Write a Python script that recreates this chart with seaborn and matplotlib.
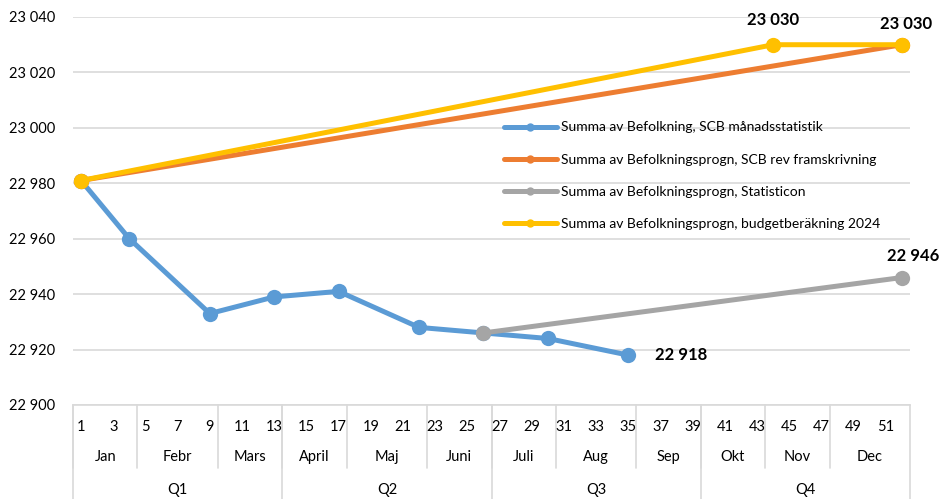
import numpy as np
import pandas as pd
import matplotlib
matplotlib.use("Agg")
import matplotlib.pyplot as plt
import matplotlib.transforms as mtransforms
from matplotlib.lines import Line2D
import seaborn as sns

# weekly values
blue_weeks = [1, 4, 9, 13, 17, 22, 26, 30, 35]
blue_vals = [22981, 22960, 22933, 22939, 22941, 22928, 22926, 22924, 22918]
orange_weeks = [1, 52]
orange_vals = [22981, 23030]
gray_weeks = [26, 52]
gray_vals = [22926, 22946]
yellow_weeks = [1, 44, 52]
yellow_vals = [22981, 23030, 23030]

labels = ["Summa av Befolkning, SCB månadsstatistik",
          "Summa av Befolkningsprogn, SCB rev framskrivning",
          "Summa av Befolkningsprogn, Statisticon",
          "Summa av Befolkningsprogn, budgetberäkning 2024"]
colors = ["#5B9BD5", "#ED7D31", "#A5A5A5", "#FFC000"]

months = ["Jan", "Febr", "Mars", "April", "Maj", "Juni",
          "Juli", "Aug", "Sep", "Okt", "Nov", "Dec"]
month_first_week = [1, 5, 10, 14, 18, 23, 27, 31, 36, 40, 44, 48]
quarters = ["Q1", "Q2", "Q3", "Q4"]
quarter_first_week = [1, 14, 27, 40]
n_weeks = 52

sns.set_style("white")
plt.rcParams["font.family"] = ["Lato", "DejaVu Sans"]
plt.rcParams["text.color"] = "#000000"

fig = plt.figure(figsize=(9.41, 4.99), dpi=100)
ax = fig.add_axes([73 / 941, 94 / 499, 837 / 941, 388 / 499])

series = [(blue_weeks, blue_vals), (orange_weeks, orange_vals),
          (gray_weeks, gray_vals), (yellow_weeks, yellow_vals)]
for (w, v), c, lab in zip(series, colors, labels):
    df = pd.DataFrame({"week": w, "value": v})
    sns.lineplot(data=df, x="week", y="value", ax=ax, color=c, lw=3.6,
                 marker="o", markersize=11, markeredgewidth=0, label=lab,
                 zorder=3)

ax.set_xlim(0.5, n_weeks + 0.5)
ax.set_ylim(22900, 23040)
yt = np.arange(22900, 23041, 20)
ax.set_yticks(yt)
ax.set_yticklabels([f"{t:,}".replace(",", " ") for t in yt], fontsize=10.5,
                   color="#000000")
ax.tick_params(axis="y", length=0, pad=13)
ax.yaxis.grid(True, color="#D9D9D9", lw=1.2)
ax.set_axisbelow(True)
for s in ["top", "left", "right"]:
    ax.spines[s].set_visible(False)
ax.spines["bottom"].set_color("#D9D9D9")
ax.spines["bottom"].set_linewidth(1.2)
ax.set_xlabel("")
ax.set_ylabel("")

# multi-level category axis
ax.set_xticks([])
tr = mtransforms.blended_transform_factory(ax.transData, ax.transAxes)
for wk in range(1, n_weeks + 1, 2):
    ax.text(wk, -0.057, str(wk), transform=tr, ha="center", va="center",
            fontsize=10.5)
month_bounds = month_first_week + [n_weeks + 1]
for i, m in enumerate(months):
    mid = (month_bounds[i] + month_bounds[i + 1] - 1) / 2
    ax.text(mid, -0.134, m, transform=tr, ha="center", va="center",
            fontsize=10.5)
    ax.plot([month_bounds[i] - 0.5] * 2, [0, -0.162], transform=tr,
            color="#D9D9D9", lw=1.2, clip_on=False)
q_bounds = quarter_first_week + [n_weeks + 1]
for i, q in enumerate(quarters):
    mid = (q_bounds[i] + q_bounds[i + 1] - 1) / 2
    ax.text(mid, -0.219, q, transform=tr, ha="center", va="center",
            fontsize=10.5)
    ax.plot([q_bounds[i] - 0.5] * 2, [0, -0.245], transform=tr,
            color="#D9D9D9", lw=1.2, clip_on=False)
ax.plot([n_weeks + 0.5] * 2, [0, -0.245], transform=tr,
        color="#D9D9D9", lw=1.2, clip_on=False)

# data labels
def lab(x, y, dx, dy, ha="center", va="bottom"):
    ax.annotate(f"{y:,}".replace(",", " "), (x, y), xytext=(dx, dy),
                textcoords="offset points", ha=ha, va=va, fontsize=12,
                fontweight="bold", color="#000000", annotation_clip=False)

lab(yellow_weeks[1], yellow_vals[1], 0, 12)
lab(yellow_weeks[2], yellow_vals[2], 3, 9)
lab(gray_weeks[1], gray_vals[1], 8, 10)
lab(blue_weeks[-1], blue_vals[-1], 19, 0, ha="left", va="center")

handles = [Line2D([], [], color=c, lw=3.6, marker="o", markersize=6,
                  markeredgewidth=0) for c in colors]
ax.legend(handles, labels, loc="center left", bbox_to_anchor=(0.5, 0.591),
          frameon=False, fontsize=10, handlelength=3.8, handletextpad=0.3,
          labelspacing=1.45, labelcolor="#000000")

fig.savefig("out.png", dpi=100)
